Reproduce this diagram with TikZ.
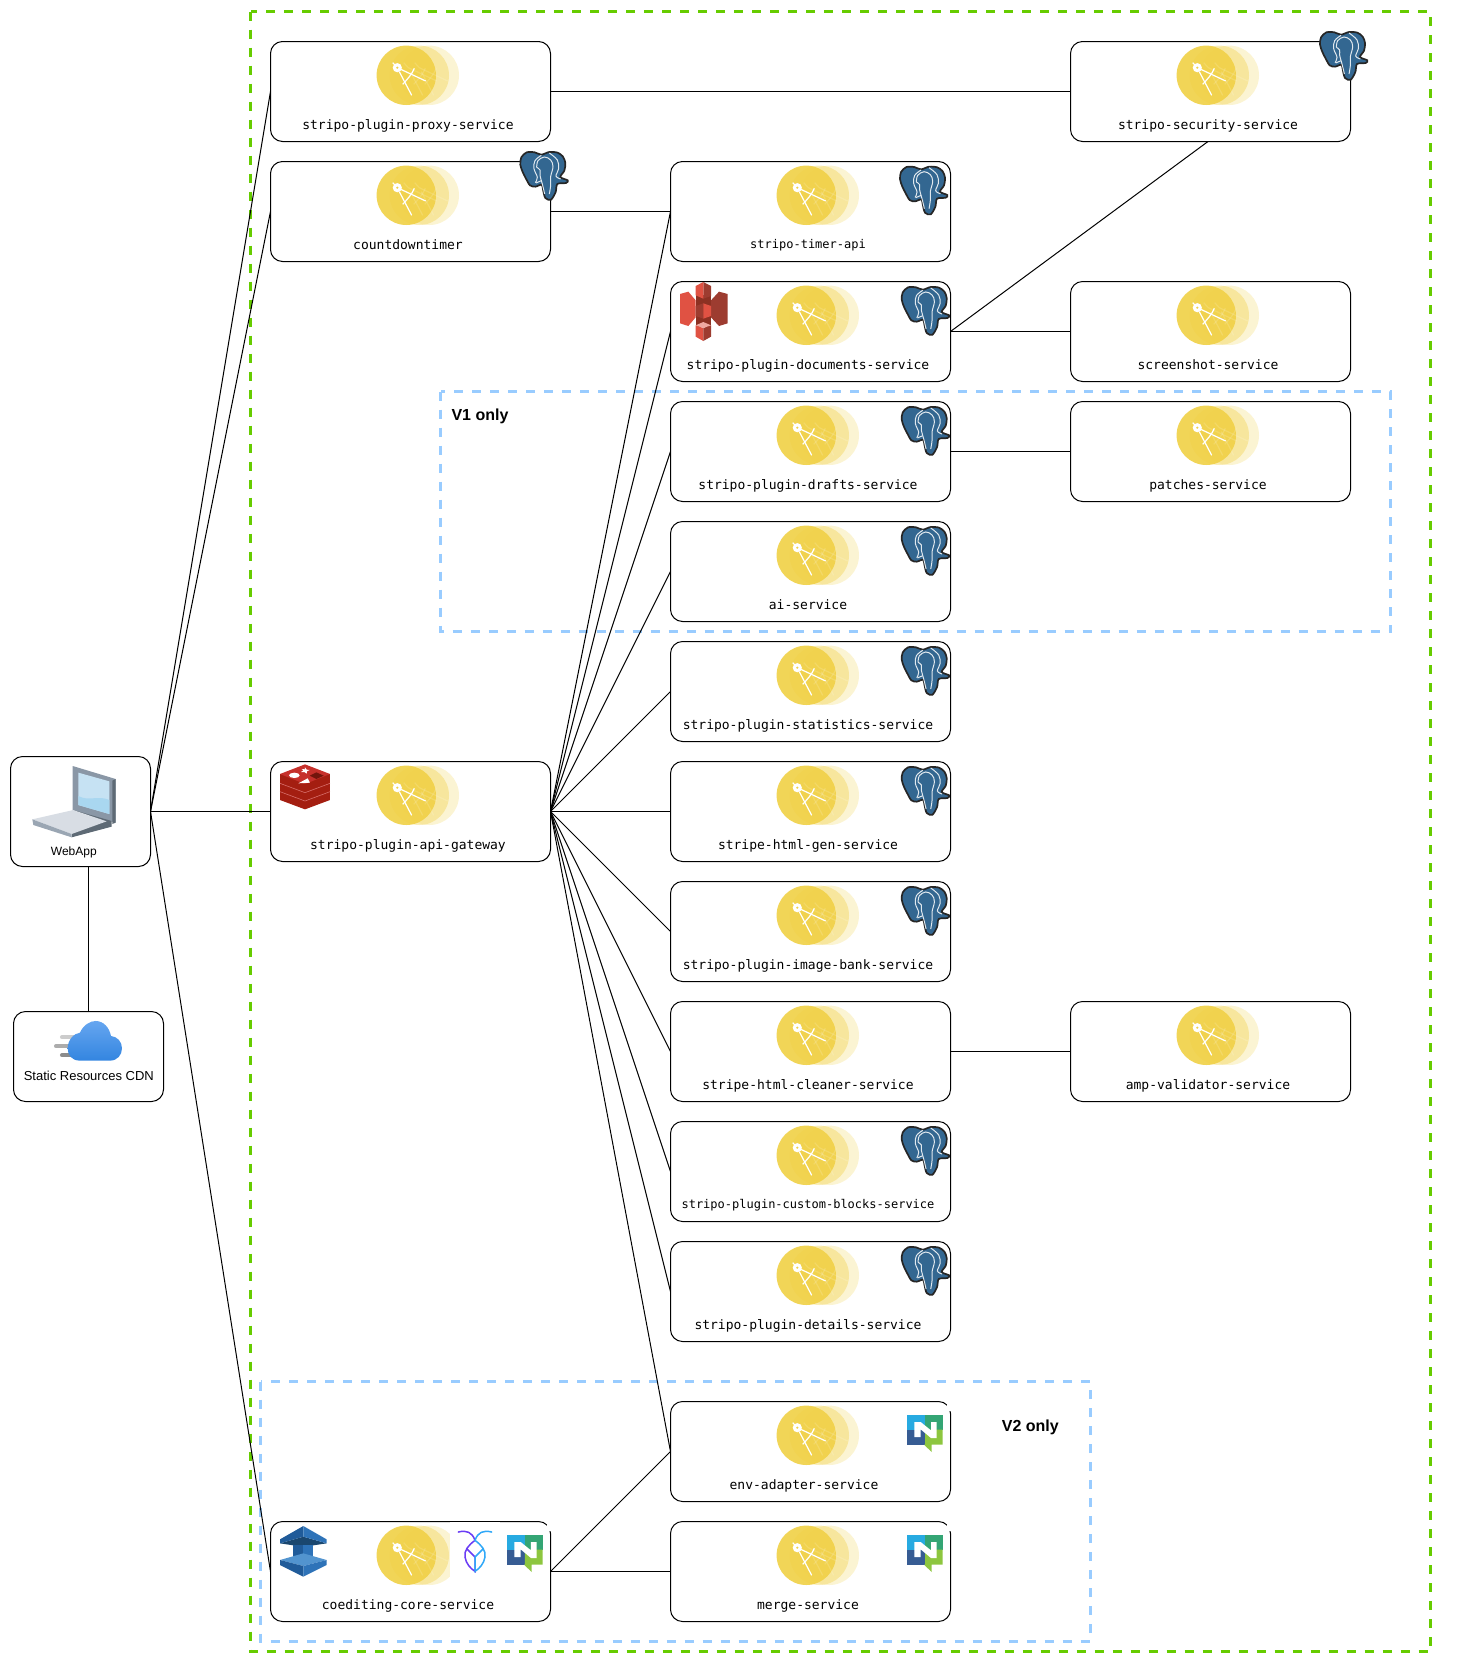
\documentclass[tikz,border=0pt]{standalone}
\usepackage{fontspec}
\setmainfont{Liberation Sans}
\setmonofont{DejaVu Sans Mono}

\definecolor{greenframe}{HTML}{66CC00}
\definecolor{blueframe}{HTML}{99CCFF}
\definecolor{engineyellow}{HTML}{F0D045}
\definecolor{pgblue}{HTML}{336791}
\definecolor{s3light}{HTML}{E05243}
\definecolor{s3dark}{HTML}{8C3123}
\definecolor{s3mid}{HTML}{9D3C30}
\definecolor{redislight}{HTML}{C6302B}
\definecolor{redisdark}{HTML}{A41E11}
\definecolor{dynlight}{HTML}{2E73B8}
\definecolor{dynmid}{HTML}{205B99}
\definecolor{dyndark}{HTML}{1A476F}
\definecolor{dyntop}{HTML}{5294CF}
\definecolor{natsa}{HTML}{27AAE1}
\definecolor{natsb}{HTML}{34A574}
\definecolor{natsc}{HTML}{375C93}
\definecolor{natsd}{HTML}{8DC63F}
\definecolor{roachleft}{HTML}{6A3CF5}
\definecolor{roachright}{HTML}{30A8F8}
\definecolor{lapframe}{HTML}{8A97A6}
\definecolor{lapdark}{HTML}{5E6A75}
\definecolor{lapscreen}{HTML}{C6E2F3}
\definecolor{lapwave}{HTML}{A9D7F0}
\definecolor{lapbase}{HTML}{D8DDE4}
\definecolor{lapfront}{HTML}{9AA6B3}
\definecolor{cloudtop}{HTML}{66A6F0}
\definecolor{cloudbottom}{HTML}{3385E0}

\tikzset{
    svcbox/.style = {draw, rounded corners = 12pt, fill = none, minimum width = 280pt, minimum height = 100pt, inner sep = 0pt, outer sep = 0pt, line width = 1pt},
    clientbox/.style = {draw, rounded corners = 12pt, inner sep = 0pt, outer sep = 0pt, line width = 1pt},
    svclabel/.style = {font = \fontsize{13}{15}\selectfont\ttfamily, inner sep = 0pt, anchor = base},
    smalllabel/.style = {font = \fontsize{12}{14}\selectfont\ttfamily, inner sep = 0pt, anchor = base},
    clientlabel/.style = {font = \fontsize{13}{15}\selectfont, inner sep = 0pt},
    grouplabel/.style = {font = \fontsize{16}{18}\selectfont\bfseries, inner sep = 0pt},
    conn/.style = {line width = 1pt},
    greengroup/.style = {draw = greenframe, line width = 3pt, dash pattern = on 9pt off 9pt},
    bluegroup/.style = {draw = blueframe, line width = 3pt, dash pattern = on 9pt off 9pt},
    zoomed/.style = {x = 0.3333pt, y = -0.3333pt},
    pgline/.style = {white!85!pgblue, line width = 1pt},
    % compass on three fading discs
    compass/.pic = {
        \draw[white, line width = 1.2pt] (122.2, 21.2) -- (126.8, 26.2) -- (155.2, 39.5);
        \draw[white, line width = 1.2pt] (128.8, 30.2) -- (141.2, 53.8);
        \draw[white, line width = 1.2pt] (143.8, 26.8) .. controls (141.5, 33) and (136.5, 38) .. (132.2, 42.8);
    },
    engine/.pic = {
        \fill[engineyellow, opacity = 0.24] (158.8, 33.8) circle (29.7pt);
        \fill[engineyellow, opacity = 0.38] (148.8, 33.8) circle (29.7pt);
        \fill[engineyellow, opacity = 0.9] (135.8, 33.8) circle (29.7pt);
        \begin{scope}[opacity = 0.14, xshift = 11pt]
            \pic {compass};
        \end{scope}
        \begin{scope}[opacity = 0.14, xshift = 22pt]
            \pic {compass};
        \end{scope}
        \pic {compass};
        \fill[white] (126.8, 26.2) circle (4.6pt);
        \fill[engineyellow] (126.8, 26.2) circle (1.2pt);
    },
    pgicon/.pic = {
        \begin{scope}[zoomed]
            \draw[fill = pgblue, draw = black!85, line width = 1.7pt]
                plot[smooth cycle, tension = 0.5] coordinates {(32, 13) (56, 13) (76, 20) (100, 12) (125, 14) (141, 26) (148, 45) (145, 68) (133, 87) (155, 97) (150, 105) (124, 108) (119, 132) (105, 155) (88, 150) (81, 125) (77, 110) (58, 116) (42, 112) (30, 92) (20, 72) (13, 50) (16, 28)};
            \draw[pgline] plot[smooth, tension = 0.6] coordinates {(76, 22) (57, 38) (54, 62) (64, 88) (58, 104)};
            \draw[pgline] plot[smooth, tension = 0.6] coordinates {(100, 15) (124, 36) (128, 62) (120, 84) (134, 93)};
            \draw[pgline] plot[smooth, tension = 0.6] coordinates {(62, 58) (66, 38) (85, 27) (104, 36) (111, 56) (104, 86) (104, 112) (100, 138)};
            \draw[pgline] plot[smooth, tension = 0.6] coordinates {(62, 58) (72, 66) (72, 82) (80, 112) (86, 138)};
            \draw[pgline] (60, 105) -- (76, 98);
        \end{scope}
    },
    s3icon/.pic = {
        \begin{scope}[zoomed]
            \fill[s3dark] (62, 50) rectangle (108, 146);
            \fill[s3mid] (85, 12) -- (108, 24) -- (108, 54) -- (85, 62) -- cycle;
            \fill[s3light] (85, 12) -- (62, 24) -- (62, 52) -- (85, 62) -- cycle;
            \fill[s3light] (15, 48) -- (40, 41) -- (62, 67) -- (62, 118) -- (40, 144) -- (15, 136) -- cycle;
            \fill[s3mid] (158, 48) -- (132, 41) -- (108, 67) -- (108, 118) -- (132, 144) -- (158, 136) -- cycle;
            \fill[s3mid] (62, 84) -- (85, 76) -- (85, 122) -- (62, 114) -- cycle;
            \fill[s3light] (108, 84) -- (85, 76) -- (85, 122) -- (108, 114) -- cycle;
            \fill[s3light] (62, 142) -- (85, 150) -- (85, 189) -- (62, 176) -- cycle;
            \fill[s3mid] (108, 142) -- (85, 150) -- (85, 189) -- (108, 176) -- cycle;
            \fill[s3light!50!white] (62, 142) -- (85, 132) -- (108, 142) -- (85, 150) -- cycle;
        \end{scope}
    },
    redisicon/.pic = {
        \begin{scope}[zoomed]
            \fill[redisdark] (15, 42) -- (15, 120) -- (90, 148) -- (165, 120) -- (165, 42) -- cycle;
            \draw[redislight!70!white, line width = 0.6pt] (15, 70) -- (90, 98) -- (165, 70);
            \draw[redislight!70!white, line width = 0.6pt] (15, 95) -- (90, 123) -- (165, 95);
            \fill[redislight] (15, 42) -- (90, 13) -- (165, 42) -- (90, 72) -- cycle;
            \fill[white] (58, 46) ellipse (16 and 8);
            \fill[white] (90, 22) -- (95, 29) -- (104, 30) -- (96, 34) -- (95, 41) -- (88, 36) -- (78, 36) -- (85, 31) -- (80, 27) -- (89, 28) -- cycle;
            \fill[white] (70, 70) -- (105, 68) -- (98, 55) -- cycle;
            \fill[redisdark!70!black] (124, 37) -- (146, 47) -- (124, 57) -- (104, 47) -- cycle;
        \end{scope}
    },
    dynamoicon/.pic = {
        \begin{scope}[zoomed]
            \fill[dyndark] (15, 70) -- (85, 50) -- (155, 70) -- (115, 76) -- (55, 76) -- cycle;
            \fill[dynmid] (85, 18) -- (15, 58) -- (15, 70) -- (85, 50) -- cycle;
            \fill[dynlight] (85, 18) -- (155, 58) -- (155, 70) -- (85, 50) -- cycle;
            \fill[dynmid] (55, 74) rectangle (85, 112);
            \fill[dynlight] (85, 74) rectangle (115, 112);
            \fill[dyntop] (15, 120) -- (85, 100) -- (155, 120) -- (85, 138) -- cycle;
            \fill[dynmid] (15, 120) -- (85, 138) -- (85, 170) -- (15, 135) -- cycle;
            \fill[dynlight] (155, 120) -- (85, 138) -- (85, 170) -- (155, 135) -- cycle;
        \end{scope}
    },
    roachicon/.pic = {
        \begin{scope}[zoomed]
            \fill[white] (0, 0) rectangle (150, 175);
            \draw[roachleft, line width = 1.5pt, line cap = round] (25, 30) .. controls (50, 24) and (66, 30) .. (75, 55) .. controls (55, 70) and (42, 85) .. (45, 105) .. controls (48, 125) and (62, 140) .. (75, 148) -- (75, 105) -- (50, 80);
            \draw[roachright, line width = 1.5pt, line cap = round] (125, 30) .. controls (100, 24) and (84, 30) .. (75, 55) .. controls (95, 70) and (108, 85) .. (105, 105) .. controls (102, 125) and (88, 140) .. (75, 148) -- (75, 105) -- (100, 80);
        \end{scope}
    },
    natsicon/.pic = {
        \begin{scope}[zoomed]
            \fill[white] (290, -6) rectangle (307, 28);
            \fill[natsa] (170, 38) rectangle (225, 83);
            \fill[natsb] (225, 38) rectangle (278, 83);
            \fill[natsc] (170, 83) rectangle (225, 128);
            \fill[natsd] (225, 83) rectangle (278, 128) (222, 128) -- (245, 150) -- (245, 128) -- cycle;
            \fill[white] (193, 60) -- (212, 60) -- (243, 85) -- (243, 60) -- (260, 60) -- (260, 108) -- (243, 108) -- (212, 82) -- (212, 105) -- (193, 105) -- cycle;
        \end{scope}
    },
    laptopicon/.pic = {
        \begin{scope}[zoomed]
            \fill[lapframe] (143, 18) -- (272, 57) -- (272, 188) -- (143, 152) -- cycle;
            \fill[lapdark] (262, 62) -- (272, 57) -- (272, 188) -- (262, 192) -- cycle;
            \fill[lapscreen] (160, 38) -- (253, 64) -- (253, 162) -- (160, 135) -- cycle;
            \fill[lapwave] (160, 108) .. controls (190, 125) and (220, 105) .. (253, 120) -- (253, 162) -- (160, 135) -- cycle;
            \fill[lapdark] (145, 150) -- (260, 183) -- (260, 200) -- (140, 232) -- cycle;
            \fill[lapbase] (22, 178) -- (145, 150) -- (245, 184) -- (140, 222) -- cycle;
            \fill[lapfront] (22, 178) -- (140, 222) -- (140, 232) -- (25, 195) -- cycle;
        \end{scope}
    },
    cloudicon/.pic = {
        \begin{scope}[zoomed]
            \draw[gray!40, line width = 4pt, line cap = round] (186, 892) -- (225, 892);
            \draw[gray!65, line width = 4pt, line cap = round] (168, 919) -- (215, 919);
            \draw[gray!90, line width = 4pt, line cap = round] (186, 946) -- (225, 946);
            \shade[top color = cloudtop, bottom color = cloudbottom] (240, 962) .. controls (215, 962) and (203, 945) .. (203, 925) .. controls (203, 900) and (222, 880) .. (240, 878) .. controls (250, 855) and (270, 843) .. (287, 843) .. controls (310, 843) and (328, 862) .. (333, 888) .. controls (352, 890) and (366, 905) .. (366, 925) .. controls (366, 945) and (352, 962) .. (330, 962) -- cycle;
        \end{scope}
    }
}

\begin{document}
\begin{tikzpicture}[x = 1pt, y = -1pt]
    \useasboundingbox (0, 0) rectangle (1481, 1663);

    \draw[greengroup] (250.5, 11.5) rectangle (1430.5, 1651.5);
    \draw[bluegroup] (440.5, 391.5) rectangle (1390.5, 631.5);
    \draw[bluegroup] (260.5, 1381.5) rectangle (1090, 1641.5);
    \node[grouplabel] (v1label) at (480, 416.5) {V1 only};
    \node[grouplabel] (v2label) at (1030.3, 1427.8) {V2 only};

    \node[clientbox, minimum width = 140pt, minimum height = 110pt] (webapp) at (80.5, 811.5) {};
    \node[clientbox, minimum width = 150pt, minimum height = 90pt] (cdn) at (88.5, 1056.5) {};
    \node[font = \fontsize{12}{14}\selectfont, inner sep = 0pt] (webapplabel) at (73.8, 852.2) {WebApp};
    \node[clientlabel] (cdnlabel) at (88.8, 1076.3) {Static Resources CDN};

    % first column
    \node[svcbox] (proxy) at (410.5, 91.5) {};
    \node[svcbox] (countdown) at (410.5, 211.5) {};
    \node[svcbox] (gateway) at (410.5, 811.5) {};
    \node[svcbox] (coediting) at (410.5, 1571.5) {};
    % second column
    \node[svcbox] (timer) at (810.5, 211.5) {};
    \node[svcbox] (documents) at (810.5, 331.5) {};
    \node[svcbox] (drafts) at (810.5, 451.5) {};
    \node[svcbox] (ai) at (810.5, 571.5) {};
    \node[svcbox] (statistics) at (810.5, 691.5) {};
    \node[svcbox] (htmlgen) at (810.5, 811.5) {};
    \node[svcbox] (imagebank) at (810.5, 931.5) {};
    \node[svcbox] (cleaner) at (810.5, 1051.5) {};
    \node[svcbox] (customblocks) at (810.5, 1171.5) {};
    \node[svcbox] (details) at (810.5, 1291.5) {};
    \node[svcbox] (envadapter) at (810.5, 1451.5) {};
    \node[svcbox] (merge) at (810.5, 1571.5) {};
    % third column
    \node[svcbox] (security) at (1210.5, 91.5) {};
    \node[svcbox] (screenshot) at (1210.5, 331.5) {};
    \node[svcbox] (patches) at (1210.5, 451.5) {};
    \node[svcbox] (ampvalidator) at (1210.5, 1051.5) {};

    \node[svclabel] (proxylabel) at ([shift = {(137.5, 87.5)}]proxy.north west) {stripo-plugin-proxy-service};
    \node[svclabel] (countdownlabel) at ([shift = {(137.5, 87.5)}]countdown.north west) {countdowntimer};
    \node[svclabel] (gatewaylabel) at ([shift = {(137.5, 87.5)}]gateway.north west) {stripo-plugin-api-gateway};
    \node[svclabel] (coeditinglabel) at ([shift = {(137.5, 87.5)}]coediting.north west) {coediting-core-service};
    \node[smalllabel] (timerlabel) at ([shift = {(137.5, 86.5)}]timer.north west) {stripo-timer-api};
    \node[svclabel] (documentslabel) at ([shift = {(137.5, 87.5)}]documents.north west) {stripo-plugin-documents-service};
    \node[svclabel] (draftslabel) at ([shift = {(137.5, 87.5)}]drafts.north west) {stripo-plugin-drafts-service};
    \node[svclabel] (ailabel) at ([shift = {(137.5, 87.5)}]ai.north west) {ai-service};
    \node[svclabel] (statisticslabel) at ([shift = {(137.5, 87.5)}]statistics.north west) {stripo-plugin-statistics-service};
    \node[svclabel] (htmlgenlabel) at ([shift = {(137.5, 87.5)}]htmlgen.north west) {stripe-html-gen-service};
    \node[svclabel] (imagebanklabel) at ([shift = {(137.5, 87.5)}]imagebank.north west) {stripo-plugin-image-bank-service};
    \node[svclabel] (cleanerlabel) at ([shift = {(137.5, 87.5)}]cleaner.north west) {stripe-html-cleaner-service};
    \node[smalllabel] (customblockslabel) at ([shift = {(137.5, 86.5)}]customblocks.north west) {stripo-plugin-custom-blocks-service};
    \node[svclabel] (detailslabel) at ([shift = {(137.5, 87.5)}]details.north west) {stripo-plugin-details-service};
    \node[svclabel] (envadapterlabel) at ([shift = {(133.5, 87.5)}]envadapter.north west) {env-adapter-service};
    \node[svclabel] (mergelabel) at ([shift = {(137.5, 87.5)}]merge.north west) {merge-service};
    \node[svclabel] (securitylabel) at ([shift = {(137.5, 87.5)}]security.north west) {stripo-security-service};
    \node[svclabel] (screenshotlabel) at ([shift = {(137.5, 87.5)}]screenshot.north west) {screenshot-service};
    \node[svclabel] (patcheslabel) at ([shift = {(137.5, 87.5)}]patches.north west) {patches-service};
    \node[svclabel] (ampvalidatorlabel) at ([shift = {(137.5, 87.5)}]ampvalidator.north west) {amp-validator-service};

    \draw[conn] (webapp.east) -- (proxy.west);
    \draw[conn] (webapp.east) -- (countdown.west);
    \draw[conn] (webapp.east) -- (gateway.west);
    \draw[conn] (webapp.east) -- (coediting.west);
    \draw[conn] (cdn.north |- webapp.south) -- (cdn.north);
    \draw[conn] (proxy.east) -- (security.west);
    \draw[conn] (countdown.east) -- (timer.west);
    \draw[conn] (gateway.east) -- (timer.west);
    \draw[conn] (gateway.east) -- (documents.west);
    \draw[conn] (gateway.east) -- (drafts.west);
    \draw[conn] (gateway.east) -- (ai.west);
    \draw[conn] (gateway.east) -- (statistics.west);
    \draw[conn] (gateway.east) -- (htmlgen.west);
    \draw[conn] (gateway.east) -- (imagebank.west);
    \draw[conn] (gateway.east) -- (cleaner.west);
    \draw[conn] (gateway.east) -- (customblocks.west);
    \draw[conn] (gateway.east) -- (details.west);
    \draw[conn] (gateway.east) -- (envadapter.west);
    \draw[conn] (documents.east) -- ([xshift = -2.5pt]security.south);
    \draw[conn] (documents.east) -- (screenshot.west);
    \draw[conn] (drafts.east) -- (patches.west);
    \draw[conn] (cleaner.east) -- (ampvalidator.west);
    \draw[conn] (coediting.east) -- (envadapter.west);
    \draw[conn] (coediting.east) -- (merge.west);

    \pic at (proxy.north west) {engine};
    \pic at (countdown.north west) {engine};
    \pic at (gateway.north west) {engine};
    \pic at (coediting.north west) {engine};
    \pic at (timer.north west) {engine};
    \pic at (documents.north west) {engine};
    \pic at (drafts.north west) {engine};
    \pic at (ai.north west) {engine};
    \pic at (statistics.north west) {engine};
    \pic at (htmlgen.north west) {engine};
    \pic at (imagebank.north west) {engine};
    \pic at (cleaner.north west) {engine};
    \pic at (customblocks.north west) {engine};
    \pic at (details.north west) {engine};
    \pic at (envadapter.north west) {engine};
    \pic at (merge.north west) {engine};
    \pic at (security.north west) {engine};
    \pic at (screenshot.north west) {engine};
    \pic at (patches.north west) {engine};
    \pic at (ampvalidator.north west) {engine};

    \pic at ([shift = {(-34.5, -13.5)}]countdown.north east) {pgicon};
    \pic at ([shift = {(-34.8, -13.5)}]security.north east) {pgicon};
    \pic at ([shift = {(-54.8, 1.2)}]timer.north east) {pgicon};
    \pic at ([shift = {(-53.1, 1.5)}]documents.north east) {pgicon};
    \pic at ([shift = {(-53.1, 1.5)}]drafts.north east) {pgicon};
    \pic at ([shift = {(-53.1, 1.5)}]ai.north east) {pgicon};
    \pic at ([shift = {(-53.1, 1.5)}]statistics.north east) {pgicon};
    \pic at ([shift = {(-53.1, 1.5)}]htmlgen.north east) {pgicon};
    \pic at ([shift = {(-53.1, 1.5)}]imagebank.north east) {pgicon};
    \pic at ([shift = {(-53.1, 1.5)}]customblocks.north east) {pgicon};
    \pic at ([shift = {(-53.1, 1.5)}]details.north east) {pgicon};

    \pic at ([shift = {(4.5, -3.5)}]documents.north west) {s3icon};
    \pic at ([shift = {(4.5, -1.5)}]gateway.north west) {redisicon};
    \pic at ([shift = {(4.5, -1.5)}]coediting.north west) {dynamoicon};
    \pic at ([shift = {(-100.5, 0.5)}]coediting.north east) {roachicon};
    \pic at ([shift = {(-100.5, 0.5)}]coediting.north east) {natsicon};
    \pic at ([shift = {(-100.5, 0.5)}]envadapter.north east) {natsicon};
    \pic at ([shift = {(-100.5, 0.5)}]merge.north east) {natsicon};
    \pic at ([shift = {(14.5, 3.5)}]webapp.north west) {laptopicon};
    \pic at ([shift = {(-13.5, -271.5)}]cdn.north west) {cloudicon};
\end{tikzpicture}
\end{document}
